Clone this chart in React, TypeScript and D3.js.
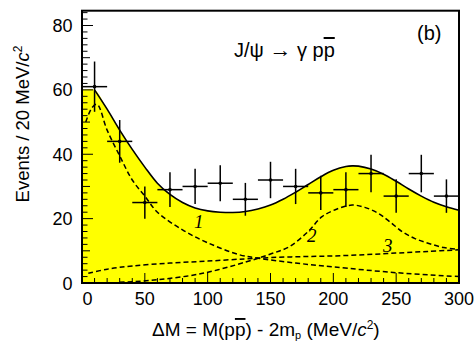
import React from "react";
import * as d3 from "d3";

const binCenters = [10, 30, 50, 70, 90, 110, 130, 150, 170, 190, 210, 230, 250, 270, 290];
const counts = [61, 44, 25, 29, 30, 31, 26, 32, 30, 28, 29, 34, 27, 34, 27];
const binHalfWidth = 10;

const totalX = [10, 20, 30, 40, 50, 60, 70, 80, 90, 100, 110, 120, 130, 140, 150, 160, 170, 180, 190, 200, 210, 215, 220, 230, 240, 250, 260, 270, 280, 290, 300];
const totalY = [60, 54, 47.5, 41.5, 36, 31, 27.5, 25, 23.3, 22.4, 22, 21.9, 22.2, 23, 24.2, 26, 28.2, 30.6, 33, 35, 36.2, 36.4, 36.3, 35.4, 33.8, 31.6, 29.2, 27, 25.1, 23.7, 22.6];

const comp1X = [3, 8, 12, 20, 30, 40, 50, 60, 80, 100, 125, 140, 170, 200, 250, 300];
const comp1Y = [50, 54.5, 55.5, 47.5, 39.5, 32, 27, 22, 16.5, 12.5, 8.8, 7.7, 6.2, 5, 3.2, 2];

const comp2X = [30, 60, 96, 131, 150, 165, 180, 191, 203, 215, 225, 236, 245, 255, 265, 276, 288, 300];
const comp2Y = [0.2, 1, 3, 6.6, 9, 11.3, 16, 20.6, 23, 24.2, 23.5, 21.6, 19, 15.9, 13.8, 12.3, 11, 10.5];

const comp3X = [5, 20, 40, 70, 100, 130, 150, 175, 200, 225, 250, 275, 300];
const comp3Y = [3.0, 4.3, 5.3, 6.2, 6.8, 7.5, 7.9, 8.2, 8.4, 8.8, 9.3, 9.8, 10.3];

const xTicks = [0, 50, 100, 150, 200, 250, 300];
const yTicks = [0, 20, 40, 60, 80];

const W = 475, H = 343;
const L = 82, R = 459, T = 10.7, B = 283;

export default function App() {
  const x = d3.scaleLinear().domain([0, 300]).range([L, R]);
  const y = d3.scaleLinear().domain([0, 84.6]).range([B, T]);

  const line = d3.line<[number, number]>().x(d => x(d[0])).y(d => y(d[1])).curve(d3.curveCatmullRom);
  const totalPts: [number, number][] = totalX.map((v, i) => [v, totalY[i]]);
  const area = d3.area<[number, number]>().x(d => x(d[0])).y0(y(0)).y1(d => y(d[1])).curve(d3.curveCatmullRom);
  const fillPts: [number, number][] = [[0, totalY[0]], ...totalPts];

  const mk = (xs: number[], ys: number[]) => xs.map((v, i) => [v, ys[i]] as [number, number]);

  const minorX = d3.range(0, 301, 10);
  const minorY = d3.range(0, 85, 2);
  const font = "'Liberation Sans', Arial, Helvetica, sans-serif";

  return (
    <svg width={W} height={H} style={{ position: "absolute", left: 0, top: 0, background: "#fff" }} fontFamily={font}>
      <path d={area(fillPts) || ""} fill="#ffff00" stroke="none" />
      {[mk(comp1X, comp1Y), mk(comp2X, comp2Y), mk(comp3X, comp3Y)].map((pts, i) => (
        <path key={i} d={line(pts) || ""} fill="none" stroke="#000" strokeWidth={1.5} strokeDasharray="5,3" />
      ))}
      <path d={line(totalPts) || ""} fill="none" stroke="#000" strokeWidth={1.6} />
      {binCenters.map((c, i) => {
        const e = Math.sqrt(counts[i]);
        return (
          <g key={i} stroke="#000" strokeWidth={1.5}>
            <line x1={x(c - binHalfWidth)} x2={x(c + binHalfWidth)} y1={y(counts[i])} y2={y(counts[i])} />
            <line x1={x(c)} x2={x(c)} y1={y(counts[i] - e)} y2={y(counts[i] + e)} />
            <circle cx={x(c)} cy={y(counts[i])} r={1.8} fill="#000" stroke="none" />
          </g>
        );
      })}
      {/* frame */}
      <rect x={L} y={T} width={R - L} height={B - T} fill="none" stroke="#000" strokeWidth={2} />
      {/* x ticks */}
      {minorX.map(v => (
        <line key={"xt" + v} x1={x(v)} x2={x(v)} y1={B} y2={B - (v % 50 === 0 ? 10 : 5)} stroke="#000" strokeWidth={1} />
      ))}
      {minorY.map(v => (
        <line key={"yt" + v} x1={L} x2={L + (v % 20 === 0 ? 11 : v % 10 === 0 ? 8 : 5.5)} y1={y(v)} y2={y(v)} stroke="#000" strokeWidth={1} />
      ))}
      {xTicks.map(v => (
        <text key={"xl" + v} x={x(v) + (v === 0 ? 5.5 : 0)} y={305} fontSize={18} textAnchor="middle">{v}</text>
      ))}
      {yTicks.map(v => (
        <text key={"yl" + v} x={72.5} y={y(v) + 6.5} fontSize={18} textAnchor="end">{v}</text>
      ))}
      {/* component labels */}
      <g fontFamily="'Liberation Serif', 'Times New Roman', serif" fontStyle="italic" fontSize={19}>
        <text x={194} y={228}>1</text>
        <text x={307} y={242}>2</text>
        <text x={383} y={252}>3</text>
      </g>
      {/* title */}
      <text x={234} y={57} fontSize={20}>
        J/ψ <tspan fontSize={22}>→</tspan> γ p<tspan style={{ textDecoration: "overline" }}>p</tspan>
      </text>
      <text x={417} y={40} fontSize={20}>(b)</text>
      {/* axis titles */}
      <text x={152} y={336} fontSize={19}>
        ΔM = M(p<tspan style={{ textDecoration: "overline" }}>p</tspan>) - 2m<tspan fontSize={11} dy={3}>p</tspan><tspan dy={-3}> (MeV/</tspan><tspan fontStyle="italic">c</tspan><tspan fontSize={12} dy={-7}>2</tspan><tspan dy={7}>)</tspan>
      </text>
      <text transform="translate(29,124) rotate(-90)" fontSize={18.5} textAnchor="middle">
        Events / 20 MeV/<tspan fontStyle="italic">c</tspan><tspan fontSize={12} dy={-7}>2</tspan>
      </text>
    </svg>
  );
}
